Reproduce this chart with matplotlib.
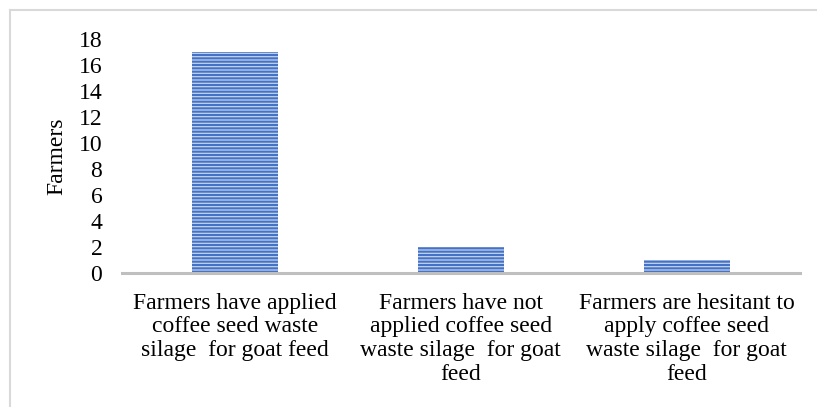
import matplotlib.pyplot as plt
from matplotlib.lines import Line2D

categories = [
    "Farmers have applied\ncoffee seed waste\nsilage  for goat feed",
    "Farmers have not\napplied coffee seed\nwaste silage  for goat\nfeed",
    "Farmers are hesitant to\napply coffee seed\nwaste silage  for goat\nfeed",
]
farmers = [17, 2, 1]
yticks = list(range(0, 19, 2))

plt.rcParams['font.family'] = ['Liberation Serif', 'DejaVu Serif']
plt.rcParams['hatch.linewidth'] = 1.5

fig = plt.figure(figsize=(8.17, 4.07), dpi=100)
ax = fig.add_axes([0.149, 0.329, 0.83, 0.575])

x = range(len(categories))
ax.bar(x, farmers, 0.38, color='#C3D3EF', edgecolor='#4472C4',
       linewidth=0, hatch='-----')

ax.set_xlim(-0.5, 2.5)
ax.set_ylim(0, 18)
ax.set_yticks(yticks)
ax.set_xticks(list(x), categories, linespacing=1.17)
ax.tick_params(axis='x', length=0, pad=14, labelsize=17)
ax.tick_params(axis='y', length=0, pad=14, labelsize=17)

for s in ['top', 'right', 'left']:
    ax.spines[s].set_visible(False)
ax.spines['bottom'].set_color('#BFBFBF')
ax.spines['bottom'].set_linewidth(2.2)

ax.set_ylabel("Farmers", fontsize=17, labelpad=8)

# thin gray frame round the chart (left and top only visible)
fig.add_artist(Line2D([9.5 / 817, 9.5 / 817], [0, 1 - 10 / 407],
                      transform=fig.transFigure, color='#D9D9D9', lw=1.5))
fig.add_artist(Line2D([9.5 / 817, 1], [1 - 10 / 407, 1 - 10 / 407],
                      transform=fig.transFigure, color='#D9D9D9', lw=1.5))

fig.savefig("out.png", dpi=100)
